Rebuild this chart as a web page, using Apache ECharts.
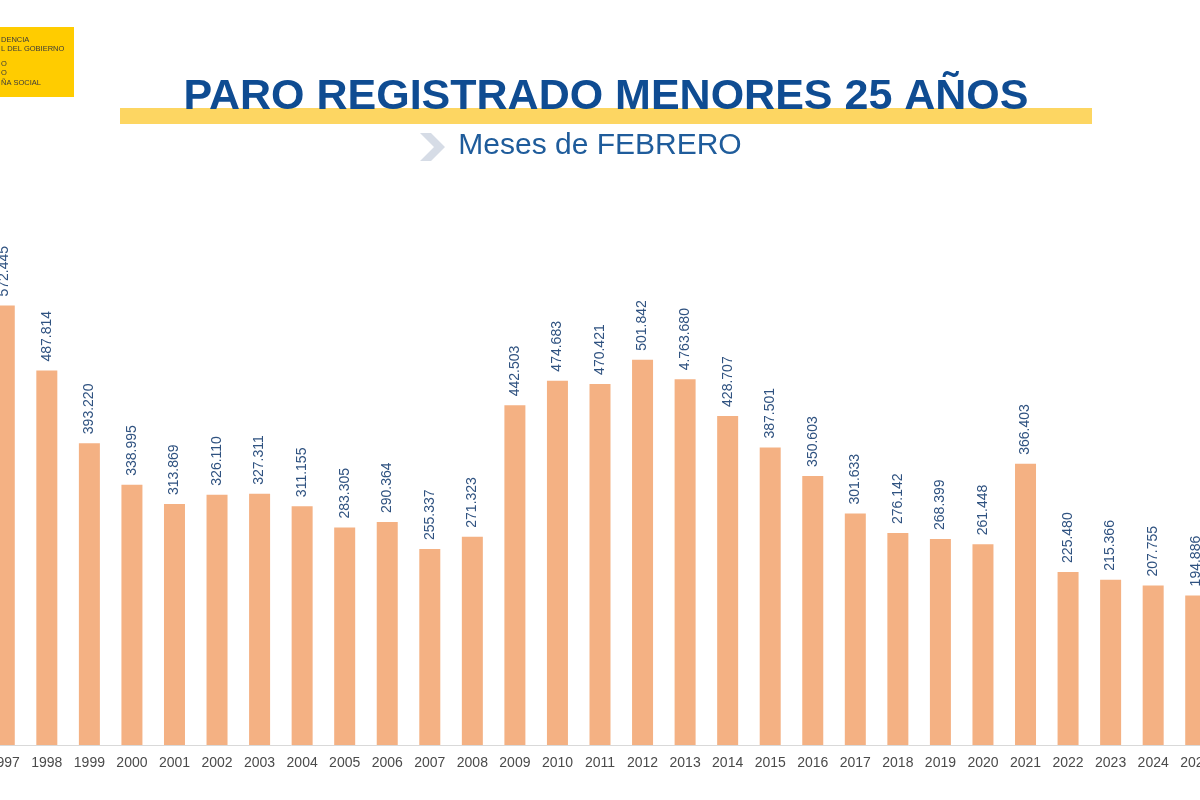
<!DOCTYPE html>
<html>
<head>
<meta charset="utf-8">
<script src="https://cdn.jsdelivr.net/npm/echarts@6/dist/echarts.min.js"></script>
<style>
html,body{margin:0;padding:0;background:#fff;overflow:hidden;width:1200px;height:800px;}
#wrap{position:relative;width:1200px;height:800px;overflow:hidden;}
#chart{position:absolute;left:-17px;top:0;width:1234px;height:800px;}
</style>
</head>
<body>
<div id="wrap"><div id="chart"></div></div>
<script>
var years = ['1997','1998','1999','2000','2001','2002','2003','2004','2005','2006','2007','2008','2009','2010','2011','2012','2013','2014','2015','2016','2017','2018','2019','2020','2021','2022','2023','2024','2025'];
var values = [572445, 487814, 393220, 338995, 313869, 326110, 327311, 311155, 283305, 290364, 255337, 271323, 442503, 474683, 470421, 501842, 476368, 428707, 387501, 350603, 301633, 276142, 268399, 261448, 366403, 225480, 215366, 207755, 194886];
var valueLabels = ['572.445','487.814','393.220','338.995','313.869','326.110','327.311','311.155','283.305','290.364','255.337','271.323','442.503','474.683','470.421','501.842','4.763.680','428.707','387.501','350.603','301.633','276.142','268.399','261.448','366.403','225.480','215.366','207.755','194.886'];
var titleText = 'PARO REGISTRADO MENORES 25 AÑOS';
var subtitleText = 'Meses de FEBRERO';
var logoLines = ['DENCIA','L DEL GOBIERNO','O','O','ÑA SOCIAL'];

var chart = echarts.init(document.getElementById('chart'));
var FONT = '"Liberation Sans", Arial, sans-serif';
var OX = 17; // offset of the page origin inside the wider chart canvas

var logoY = [40, 49, 64, 73, 83];
var graphics = [
  {type:'rect', shape:{x:OX - 1, y:27, width:75, height:70}, style:{fill:'#FFCC00'}, z:1},
  {type:'rect', shape:{x:OX + 120, y:108, width:972, height:16}, style:{fill:'#FDD662'}, z:1},
  {type:'text', x:OX + 606, y:97, style:{text:titleText, textAlign:'center', textVerticalAlign:'middle', font:'bold 43px ' + FONT, fill:'#0F4C92'}, z:2},
  {type:'polygon', shape:{points:[[OX+420,133],[OX+431,133],[OX+445,147],[OX+431,161],[OX+420,161],[OX+434,147]]}, style:{fill:'#D6DCE6'}, z:2},
  {type:'text', x:OX + 600, y:146, style:{text:subtitleText, textAlign:'center', textVerticalAlign:'middle', font:'30px ' + FONT, fill:'#1F5C9B'}, z:2}
];
logoLines.forEach(function(t, i){
  graphics.push({type:'text', x:OX + 1, y:logoY[i], style:{text:t, textAlign:'left', textVerticalAlign:'middle', font:'7.5px ' + FONT, fill:'#3a3a3a'}, z:2});
});

chart.setOption({
  backgroundColor:'#ffffff',
  animation:false,
  graphic: graphics,
  grid:{left:0, right:0, top:200, bottom:55, containLabel:false},
  xAxis:{
    type:'category',
    data:years,
    axisLine:{show:true, lineStyle:{color:'#D9D9D9', width:1}},
    axisTick:{show:false},
    axisLabel:{interval:0, color:'#4a4a4a', fontSize:14, fontFamily:FONT, margin:11}
  },
  yAxis:{
    type:'value', min:0, max:710000,
    show:false,
    splitLine:{show:false}
  },
  series:[{
    type:'bar',
    data:values,
    barWidth:21,
    itemStyle:{color:'#F4B183'},
    label:{
      show:true,
      position:'top',
      rotate:90,
      align:'left',
      verticalAlign:'middle',
      distance:9,
      color:'#2F5280',
      fontSize:14,
      fontFamily:FONT,
      formatter:function(p){ return valueLabels[p.dataIndex]; }
    }
  }]
});
</script>
</body>
</html>
